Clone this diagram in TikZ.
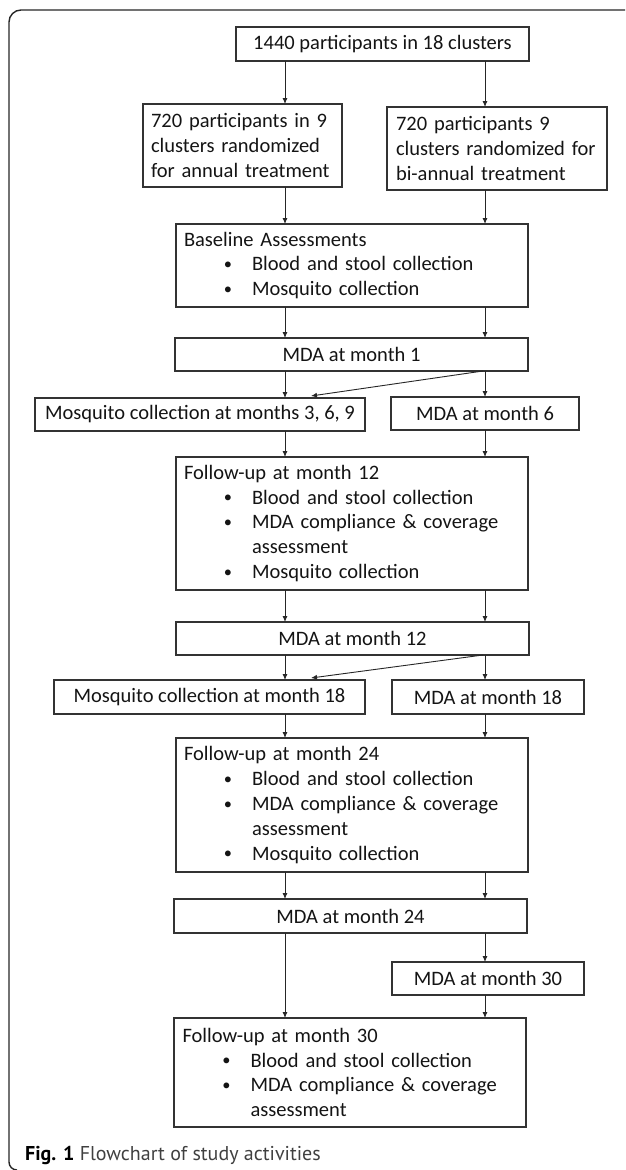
\documentclass[tikz,border=0pt]{standalone}
\usepackage{fontspec}
\setmainfont{Carlito}
\newfontfamily\capfont{PT Sans}
\usetikzlibrary{arrows.meta,calc}
\newcommand\bl[1]{\hspace*{44pt}\makebox[0pt]{\raisebox{1.2pt}{\scalebox{0.8}{•}}}\hspace*{24pt}#1}
\newcommand\cont[1]{\hspace*{68pt}#1}
\begin{document}
\begin{tikzpicture}[x=1pt,y=-1pt,
 box/.style={draw=black!80, line width=1.1pt, anchor=north west, inner sep=0pt, outer sep=0pt,
   font=\fontsize{20.5}{24.8}\selectfont, text=black!92},
 lbox/.style={box, align=left, inner xsep=8pt},
 arr/.style={draw=black!85, line width=0.9pt, -{Latex[length=6pt,width=5pt]}},
 frame/.style={draw=black!85, line width=1.4pt}
]
\useasboundingbox (0,0) rectangle (625,1170);
\draw[frame] (625,10) -- (21,10) arc[start angle=270, end angle=180, radius=12] -- (9,1162)
  arc[start angle=180, end angle=90, radius=8];

\node[box, minimum width=293pt, minimum height=34pt] (top) at (236,27) {1440 participants in 18 clusters};
\node[lbox, text width=183pt, minimum height=83pt] (a2) at (143,104) {720 participants in 9\\clusters randomized\\for annual treatment};
\node[lbox, text width=202pt, inner xsep=9pt, minimum height=83pt] (b2) at (387,107) {720 participants 9\\clusters randomized for\\bi-annual treatment};
\node[lbox, text width=336pt, minimum height=83pt] (base) at (176,224) {Baseline Assessments\\\bl{Blood and stool collection}\\\bl{Mosquito collection}};
\node[box, minimum width=353pt, minimum height=33pt] (m1) at (175,338) {MDA at month 1};
\node[box, minimum width=330pt, minimum height=33pt] (mq1) at (35,398) {Mosquito collection at months 3, 6, 9};
\node[box, minimum width=188pt, minimum height=33pt] (m6) at (391,397) {MDA at month 6};
\node[lbox, text width=336pt, inner xsep=8pt, minimum height=133pt] (f12) at (176,457) {Follow-up at month 12\\\bl{Blood and stool collection}\\\bl{MDA compliance \& coverage}\\\cont{assessment}\\\bl{Mosquito collection}};
\node[box, minimum width=353pt, minimum height=33pt] (m12) at (176,622) {MDA at month 12};
\node[box, minimum width=311pt, minimum height=34pt] (mq18) at (54,680) {Mosquito collection at month 18};
\node[box, minimum width=192pt, minimum height=34pt] (m18) at (392,680) {MDA at month 18};
\node[lbox, text width=336pt, minimum height=134pt] (f24) at (176,738) {Follow-up at month 24\\\bl{Blood and stool collection}\\\bl{MDA compliance \& coverage}\\\cont{assessment}\\\bl{Mosquito collection}};
\node[box, minimum width=353pt, minimum height=34pt] (m24) at (174,899) {MDA at month 24};
\node[box, minimum width=192pt, minimum height=33pt] (m30) at (392,962) {MDA at month 30};
\node[lbox, text width=335pt, inner xsep=8.5pt, minimum height=109pt] (f30) at (174,1018) {Follow-up at month 30\\\bl{Blood and stool collection}\\\bl{MDA compliance \& coverage}\\\cont{assessment}};

\node[anchor=base west, inner sep=0pt] (cap) at (25,1160) {\capfont\fontsize{20}{24}\selectfont\textbf{Fig. 1} {\color{black!75}Flowchart of study activities}};

\coordinate (L) at (285,0);
\coordinate (R) at (485,0);
\coordinate (D) at (311,0);
\draw[arr] (top.south -| L) -- (a2.north -| L);
\draw[arr] (top.south -| R) -- (b2.north -| R);
\draw[arr] (a2.south -| L) -- (base.north -| L);
\draw[arr] (b2.south -| R) -- (base.north -| R);
\draw[arr] (base.south -| L) -- (m1.north -| L);
\draw[arr] (base.south -| R) -- (m1.north -| R);
\draw[arr] (m1.south -| L) -- (mq1.north -| L);
\draw[arr] (m1.south -| R) -- (m6.north -| R);
\draw[arr] ($(m1.south -| R)+(-2,0)$) -- ($(mq1.north -| D)+(0,-2)$);
\draw[arr] (mq1.south -| L) -- (f12.north -| L);
\draw[arr] (m6.south -| R) -- (f12.north -| R);
\draw[arr] (f12.south -| L) -- (m12.north -| L);
\draw[arr] (f12.south -| R) -- (m12.north -| R);
\draw[arr] (m12.south -| L) -- (mq18.north -| L);
\draw[arr] (m12.south -| R) -- (m18.north -| R);
\draw[arr] ($(m12.south -| R)+(-2,0)$) -- ($(mq18.north -| D)+(0,-2)$);
\draw[arr] (mq18.south -| L) -- (f24.north -| L);
\draw[arr] (m18.south -| R) -- (f24.north -| R);
\draw[arr] (f24.south -| L) -- (m24.north -| L);
\draw[arr] (f24.south -| R) -- (m24.north -| R);
\draw[arr] (m24.south -| L) -- (f30.north -| L);
\draw[arr] (m24.south -| R) -- (m30.north -| R);
\draw[arr] (m30.south -| R) -- (f30.north -| R);
\end{tikzpicture}
\end{document}
